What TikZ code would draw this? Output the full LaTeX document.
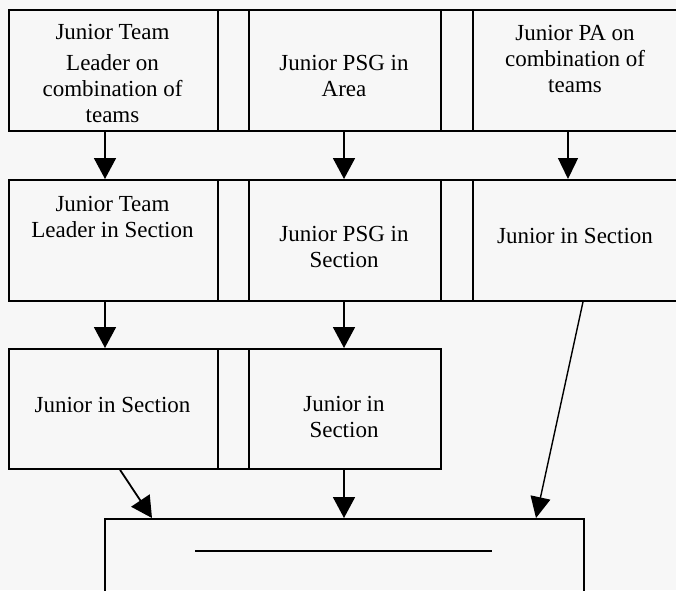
\documentclass[tikz,border=0pt]{standalone}
\usepackage{fontspec}
\setmainfont{Liberation Serif}
\usetikzlibrary{arrows.meta}
\definecolor{bg}{HTML}{F7F7F7}
\begin{document}
\begin{tikzpicture}[x=1pt,y=-1pt,
  box/.style={draw=black, line width=1.8pt, inner sep=0pt, anchor=north west},
  lbl/.style={font=\fontsize{23}{26}\selectfont, align=center, inner sep=0pt},
  arr/.style={line width=1.8pt, -{Triangle[width=22pt,length=21pt]}},
  thinarr/.style={line width=1.4pt, -{Triangle[width=20pt,length=21pt]}}]
\fill[bg] (0,0) rectangle (676,590);
\useasboundingbox (0,0) rectangle (676,590);
\clip (0,0) rectangle (676,590);
% row 1
\node[box, minimum width=209pt, minimum height=121pt] (r1a) at (8,9) {};
\node[box, minimum width=31pt, minimum height=121pt] (s1a) at (217,9) {};
\node[box, minimum width=192pt, minimum height=121pt] (r1b) at (248,9) {};
\node[box, minimum width=32pt, minimum height=121pt] (s1b) at (440,9) {};
\node[box, minimum width=210pt, minimum height=121pt] (r1c) at (472,9) {};
% row 2
\node[box, minimum width=209pt, minimum height=121pt] (r2a) at (8,179) {};
\node[box, minimum width=31pt, minimum height=121pt] (s2a) at (217,179) {};
\node[box, minimum width=192pt, minimum height=121pt] (r2b) at (248,179) {};
\node[box, minimum width=32pt, minimum height=121pt] (s2b) at (440,179) {};
\node[box, minimum width=210pt, minimum height=121pt] (r2c) at (472,179) {};
% row 3
\node[box, minimum width=209pt, minimum height=120pt] (r3a) at (8,348) {};
\node[box, minimum width=31pt, minimum height=120pt] (s3a) at (217,348) {};
\node[box, minimum width=192pt, minimum height=120pt] (r3b) at (248,348) {};
% bottom box
\node[box, minimum width=479pt, minimum height=100pt] (bx) at (104,518) {};
\coordinate (la) at (195,551);
\coordinate (lb) at (492,551);
\draw[line width=1.2pt] (la) -- (lb);
% labels
\node[lbl] (t11) at (112.5,73) {Junior Team\\[5pt]Leader on\\combination of\\teams};
\node[lbl] (t12) at (344,76) {Junior PSG in\\Area};
\node[lbl] (t13) at (575,59) {Junior PA on\\combination of\\teams};
\node[lbl] (t21) at (112.5,217) {Junior Team\\Leader in Section};
\node[lbl] (t22) at (344,247) {Junior PSG in\\Section};
\node[lbl] (t23) at (575,236) {Junior in Section};
\node[lbl] (t31) at (112.5,405) {Junior in Section};
\node[lbl] (t32) at (344,417) {Junior in\\Section};
% arrow columns
\coordinate (c1) at (105,0);
\coordinate (c2) at (344,0);
\coordinate (c3) at (568,0);
\coordinate (c4) at (120,0);
\coordinate (c5) at (152,0);
\coordinate (c6) at (583,0);
\coordinate (c7) at (536,0);
\draw[arr] (r1a.south -| c1) -- (r2a.north -| c1);
\draw[arr] (r1b.south -| c2) -- (r2b.north -| c2);
\draw[thinarr] (r1c.south -| c3) -- (r2c.north -| c3);
\draw[arr] (r2a.south -| c1) -- (r3a.north -| c1);
\draw[arr] (r2b.south -| c2) -- (r3b.north -| c2);
\draw[arr] (r3a.south -| c4) -- (bx.north -| c5);
\draw[arr] (r3b.south -| c2) -- (bx.north -| c2);
\draw[thinarr] (r2c.south -| c6) -- (bx.north -| c7);
\end{tikzpicture}
\end{document}
